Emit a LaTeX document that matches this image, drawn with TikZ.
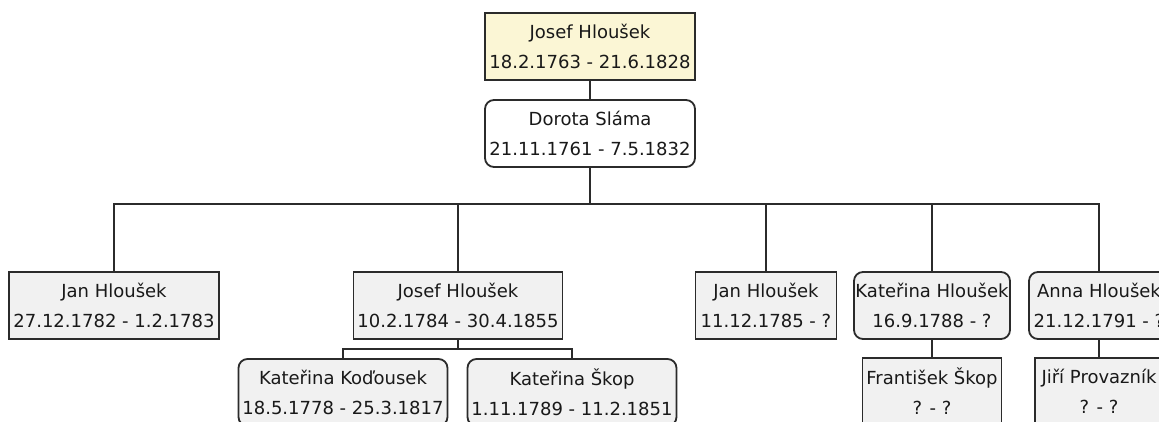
\documentclass[tikz,border=0pt]{standalone}
\usepackage{fontspec}
\setmainfont{DejaVu Sans}
\definecolor{yel}{HTML}{FBF6D5}
\definecolor{gry}{HTML}{F1F1F1}
\definecolor{ln}{HTML}{2B2B2B}
\tikzset{
  person/.style={draw=ln, line width=1.8pt, fill=gry, minimum height=67pt, inner sep=0pt,
    align=center, font=\fontsize{18}{30}\selectfont, text=black!90},
  rbox/.style={person, rounded corners=9pt},
  rootbox/.style={person, fill=yel},
  link/.style={draw=ln, line width=1.8pt},
}
\begin{document}
\begin{tikzpicture}[x=1pt,y=-1pt]
\clip (0,0) rectangle (1159,421);
\fill[white] (0,0) rectangle (1159,421);
% generation 0
\node[rootbox, minimum width=210pt] (p0) at (590,46.5) {Josef Hloušek\\18.2.1763 - 21.6.1828};
\node[rbox, fill=white, minimum width=210pt] (dor) at (590,133.5) {Dorota Sláma\\21.11.1761 - 7.5.1832};
% children
\node[person, minimum width=210pt] (c1) at (114,305.5) {Jan Hloušek\\27.12.1782 - 1.2.1783};
\node[person, minimum width=209pt] (c2) at (458,305.5) {Josef Hloušek\\10.2.1784 - 30.4.1855};
\node[person, minimum width=141pt] (c3) at (766,305.5) {Jan Hloušek\\11.12.1785 - ?};
\node[rbox, minimum width=156pt] (c4) at (932,305.5) {Kateřina Hloušek\\16.9.1788 - ?};
\node[rbox, minimum width=140pt] (c5) at (1099,305.5) {Anna Hloušek\\21.12.1791 - ?};
% spouses
\node[rbox, minimum width=209pt] (s1) at (343,392.5) {Kateřina Koďousek\\18.5.1778 - 25.3.1817};
\node[rbox, minimum width=209pt] (s2) at (572,392.5) {Kateřina Škop\\1.11.1789 - 11.2.1851};
\node[person, minimum width=139pt] (g1) at (932,391.5) {František Škop\\? - ?};
\node[person, minimum width=128pt] (g2) at (1099,391.5) {Jiří Provazník\\? - ?};
% connectors
\coordinate (bus) at (590,204);
\coordinate (sbus) at (458,349);
\draw[link] (p0) -- (dor);
\draw[link] (dor.south) -- (bus);
\draw[link] (c1.north) |- (c5.north |- bus) -- (c5.north);
\foreach \c in {c2,c3,c4} \draw[link] (\c.north) -- (\c.north |- bus);
\draw[link] (s1.north) |- (s2.north |- sbus) -- (s2.north);
\draw[link] (c2.south) -- (c2.south |- sbus);
\draw[link] (c4) -- (g1);
\draw[link] (c5) -- (g2);
\end{tikzpicture}
\end{document}
